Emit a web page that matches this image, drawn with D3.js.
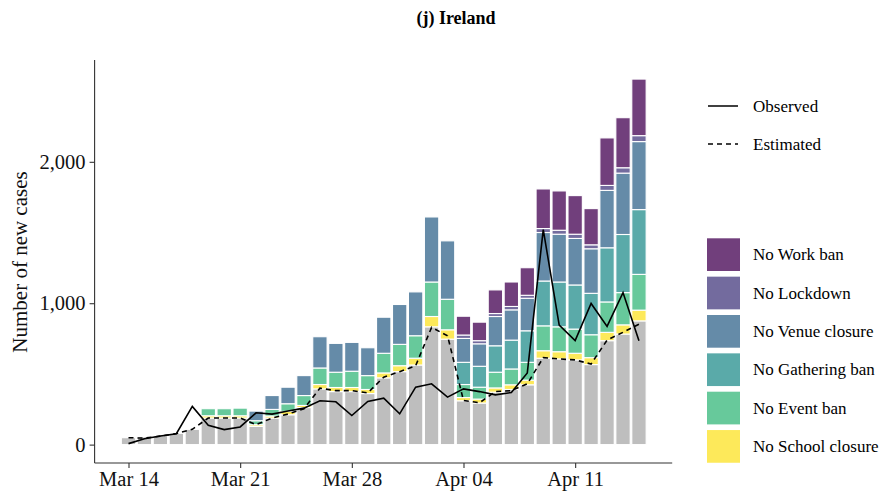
<!DOCTYPE html>
<html>
<head>
<meta charset="utf-8">
<script src="https://cdn.jsdelivr.net/npm/d3@7"></script>
<style>
  body { margin: 0; background: #fff; }
  text { font-family: "Liberation Serif", "DejaVu Serif", serif; }
</style>
</head>
<body>
<div id="vis"></div>
<script>
// days from Mar 14 to Apr 15 2020
let startDate = new Date(2020, 2, 14);
let nDays = 33;

// base (gray) bars
let baseCases = [49, 54, 65, 80, 108, 188, 188, 188, 129, 188, 211, 262, 394, 375, 375, 361, 472,
  516, 563, 833, 746, 310, 294, 371, 390, 423, 611, 606, 599, 566, 735, 782, 875];

// extra cases without each intervention (stacked on top)
let noSchool = [0, 0, 0, 0, 0, 16, 16, 16, 12, 14, 24, 15, 31, 29, 29, 29, 35,
  42, 48, 73, 66, 23, 28, 30, 33, 33, 53, 51, 47, 49, 59, 65, 76];
let noEvent = [0, 0, 0, 0, 0, 50, 50, 54, 28, 47, 54, 70, 117, 108, 115, 98, 139,
  151, 159, 244, 216, 92, 84, 111, 112, 126, 176, 176, 171, 162, 215, 228, 253];
let noGathering = [0, 0, 0, 0, 0, 0, 0, 0, 0, 0, 0, 0, 0, 0, 0, 0, 0,
  0, 0, 0, 0, 157, 148, 187, 204, 223, 317, 317, 312, 293, 383, 411, 458];
let noVenue = [0, 0, 0, 0, 0, 0, 0, 0, 68, 98, 117, 141, 221, 204, 204, 197, 255,
  282, 310, 460, 413, 169, 159, 207, 214, 230, 343, 338, 329, 315, 406, 434, 481];
let noLockdown = [0, 0, 0, 0, 0, 0, 0, 0, 0, 0, 0, 0, 0, 0, 0, 0, 0,
  0, 0, 0, 0, 24, 22, 21, 24, 21, 28, 28, 30, 28, 35, 38, 42];
let noWork = [0, 0, 0, 0, 0, 0, 0, 0, 0, 0, 0, 0, 0, 0, 0, 0, 0,
  0, 0, 0, 0, 133, 131, 167, 173, 195, 280, 278, 273, 256, 336, 354, 400];

let observed = [7, 42, 61, 77, 270, 136, 106, 125, 225, 216, 238, 258, 310, 303, 206, 305, 329,
  218, 406, 430, 336, 394, 375, 352, 368, 507, 1521, 845, 735, 998, 836, 1075, 735];
let estimated = [49, 46, 60, 78, 108, 188, 188, 188, 141, 188, 216, 254, 399, 382, 382, 366, 477,
  516, 558, 829, 770, 312, 296, 375, 382, 430, 615, 606, 599, 570, 739, 794, 852];

let layerKeys = ['base', 'school', 'event', 'gathering', 'venue', 'lockdown', 'work'];
let layerColors = ['#bebebe', '#fde95a', '#67c99b', '#5aaaa9', '#658ba8', '#736b9e', '#713f7c'];
let legendLabels = ['No Work ban', 'No Lockdown', 'No Venue closure', 'No Gathering ban', 'No Event ban', 'No School closure'];
let tickDates = [new Date(2020, 2, 14), new Date(2020, 2, 21), new Date(2020, 2, 28), new Date(2020, 3, 4), new Date(2020, 3, 11)];
let yTicks = [0, 1000, 2000];

let days = d3.range(nDays).map(i => d3.timeDay.offset(startDate, i));
let rows = days.map((d, i) => ({
  date: d,
  base: baseCases[i],
  school: noSchool[i],
  event: noEvent[i],
  gathering: noGathering[i],
  venue: noVenue[i],
  lockdown: noLockdown[i],
  work: noWork[i]
}));

let width = 882, height = 495;

let svg = d3.select('#vis')
  .append('svg')
    .attr('width', width)
    .attr('height', height)
    .style('background-color', '#fff');

// scales
let x = d3.scaleTime()
  .domain([d3.timeHour.offset(startDate, -50.3), d3.timeHour.offset(days[nDays - 1], 50.3)])
  .range([94.6, 672.2]);

let y = d3.scaleLinear()
  .domain([-130, 2720])
  .range([463, 60]);

let dayW = x(days[1]) - x(days[0]);
let barW = dayW * 0.9;

let stacked = d3.stack().keys(layerKeys)(rows);

// bars
svg.append('g')
  .selectAll('g')
  .data(stacked)
  .join('g')
    .attr('fill', (d, i) => layerColors[i])
  .selectAll('rect')
  .data(d => d.filter(s => s[1] - s[0] > 0))
  .join('rect')
    .attr('x', d => x(d.data.date) - barW / 2)
    .attr('y', d => y(d[1]))
    .attr('width', barW)
    .attr('height', d => y(d[0]) - y(d[1]))
    .attr('stroke', '#fff')
    .attr('stroke-width', 1.1);

// lines
let line = d3.line()
  .x((d, i) => x(days[i]))
  .y(d => y(d));

svg.append('path')
  .datum(estimated)
    .attr('d', line)
    .attr('fill', 'none')
    .attr('stroke', '#000')
    .attr('stroke-width', 1.6)
    .attr('stroke-dasharray', '5,4');

svg.append('path')
  .datum(observed)
    .attr('d', line)
    .attr('fill', 'none')
    .attr('stroke', '#000')
    .attr('stroke-width', 1.6);

// axes
let xAxis = svg.append('g')
  .attr('transform', 'translate(0,463)')
  .call(d3.axisBottom(x).tickValues(tickDates).tickFormat(d3.timeFormat('%b %d')).tickSizeOuter(0).tickSize(5).tickPadding(3));

let yAxis = svg.append('g')
  .attr('transform', 'translate(94.6,0)')
  .call(d3.axisLeft(y).tickValues(yTicks).tickFormat(d3.format(',')).tickSizeOuter(0).tickSize(5).tickPadding(4));

[xAxis, yAxis].forEach(a => {
  a.select('.domain').attr('stroke', '#333').attr('stroke-width', 1.1);
  a.selectAll('.tick line').attr('stroke', '#333').attr('stroke-width', 1.1);
  a.selectAll('.tick text')
    .attr('fill', '#111')
    .style('font-family', '"Liberation Serif", serif')
    .style('font-size', '20.5px');
});
yAxis.select('.domain').attr('d', 'M0,' + y(2720) + 'V463');
xAxis.select('.domain').attr('d', 'M94.6,0H672.2');

svg.append('text')
  .attr('transform', 'translate(27,262) rotate(-90)')
  .attr('text-anchor', 'middle')
  .style('font-size', '21px')
  .attr('fill', '#111')
  .text('Number of new cases');

// title
svg.append('text')
  .attr('x', 456)
  .attr('y', 24)
  .attr('text-anchor', 'middle')
  .style('font-size', '18px')
  .style('font-weight', 'bold')
  .text('(j) Ireland');

// line legend
let lineLegend = svg.append('g');
[['Observed', null, 106], ['Estimated', '5,4', 144]].forEach(l => {
  lineLegend.append('line')
    .attr('x1', 708).attr('x2', 738)
    .attr('y1', l[2]).attr('y2', l[2])
    .attr('stroke', '#000')
    .attr('stroke-width', 1.5)
    .attr('stroke-dasharray', l[1]);
  lineLegend.append('text')
    .attr('x', 753)
    .attr('y', l[2] + 5.5)
    .style('font-size', '17px')
    .text(l[0]);
});

// fill legend
let fillLegend = svg.append('g')
  .selectAll('g')
  .data(legendLabels)
  .join('g')
    .attr('transform', (d, i) => 'translate(707,' + (238.3 + i * 38.35) + ')');

fillLegend.append('rect')
  .attr('width', 33)
  .attr('height', 32.7)
  .attr('fill', (d, i) => layerColors[6 - i]);

fillLegend.append('text')
  .attr('x', 46)
  .attr('y', 16.4 + 5.5)
  .style('font-size', '17px')
  .text(d => d);
</script>
</body>
</html>
